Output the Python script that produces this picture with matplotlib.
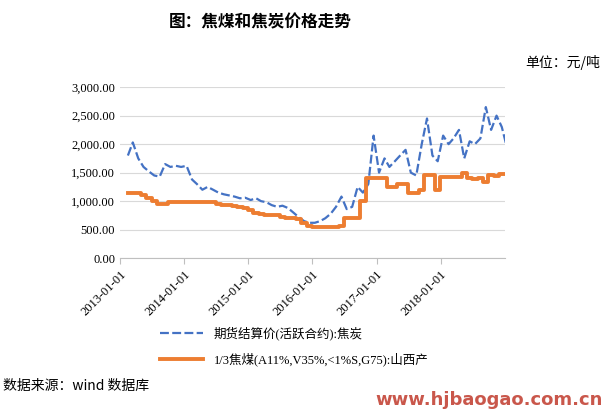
import matplotlib
matplotlib.use("Agg")
import matplotlib.pyplot as plt
import pandas as pd

plt.rcParams['font.family'] = ['Liberation Serif', 'Noto Sans CJK SC']

dates = pd.date_range("2013-01-15", periods=72, freq="MS") + pd.Timedelta(days=14)
blue = [1800,2030,1750,1600,1520,1450,1430,1650,1600,1620,1600,1620,
        1380,1300,1200,1250,1200,1150,1120,1100,1080,1050,1060,1020,
        1050,1000,980,930,900,920,880,800,720,650,620,620,
        650,700,780,900,1080,860,900,1250,1150,1300,2150,1500,
        1750,1600,1700,1800,1900,1500,1450,2000,2450,1800,1700,2150,
        2000,2100,2250,1750,2050,2000,2100,2650,2250,2500,2300,1920]
orange = [1150,1150,1150,1100,1050,1000,950,950,980,980,980,980,
          980,980,980,980,980,950,930,930,920,900,880,850,
          800,780,760,750,750,730,700,700,680,620,570,550,
          550,550,550,550,560,700,700,700,1000,1400,1400,1400,
          1400,1250,1250,1300,1300,1150,1150,1200,1450,1450,1200,1430,
          1430,1430,1430,1500,1400,1380,1400,1330,1450,1440,1470,1470]
tick_labels = ["2013-01-01","2014-01-01","2015-01-01","2016-01-01","2017-01-01","2018-01-01"]
yticks = [0,500,1000,1500,2000,2500,3000]

fig = plt.figure(figsize=(6.06,4.15), dpi=100)
ax = fig.add_axes([0.198,0.378,0.635,0.412])
ax.plot(dates, blue, color="#4472C4", lw=1.6, ls=(0,(4,1.5)), label="期货结算价(活跃合约):焦炭")
ax.plot(dates, orange, color="#ED7D31", lw=2.8, drawstyle="steps-mid", label="1/3焦煤(A11%,V35%,<1%S,G75):山西产")
ax.set_xlim(pd.Timestamp("2013-01-01"), pd.Timestamp("2019-01-01"))
ax.set_ylim(0,3000)
ax.set_yticks(yticks)
ax.set_yticklabels([f"{v:,.2f}" for v in yticks], fontsize=9)
ax.set_xticks([pd.Timestamp(t) for t in tick_labels])
ax.set_xticklabels(tick_labels, rotation=45, ha="right", rotation_mode="anchor", fontsize=9)
ax.grid(axis="y", color="#d9d9d9", lw=0.8)
for s in ["top","right","left"]:
    ax.spines[s].set_visible(False)
ax.spines["bottom"].set_color("#bfbfbf")
ax.tick_params(axis="y", length=0)
ax.tick_params(axis="x", length=4, color="#bfbfbf")
fig.legend(loc="upper left", bbox_to_anchor=(0.245,0.24), frameon=False, fontsize=9, handlelength=3.5, labelspacing=1.0)

fig.text(0.43,0.945,"图：焦煤和焦炭价格走势", fontsize=12, fontweight="bold", ha="center", va="center", family=["Noto Sans CJK SC"])
fig.text(0.99,0.85,"单位：元/吨", fontsize=10, ha="right", va="center", family=["Noto Sans CJK SC"])
fig.text(0.005,0.07,"数据来源：wind 数据库", fontsize=10, ha="left", va="center", family=["Noto Sans CJK SC"])
fig.text(0.995,0.035,"www.hjbaogao.com.cn", fontsize=13, fontweight="bold", color="#c0392b", ha="right", va="center", family=["DejaVu Sans"], alpha=0.85)
fig.savefig("out.png", dpi=100)
